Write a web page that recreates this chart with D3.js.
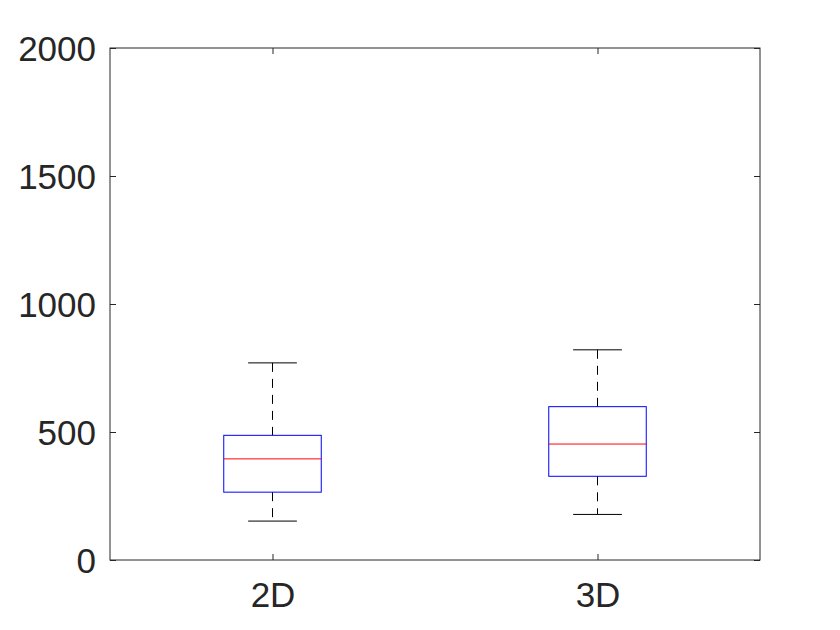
<!DOCTYPE html>
<html><head><meta charset="utf-8">
<script src="https://cdn.jsdelivr.net/npm/d3@7"></script>
<style>body{margin:0;background:#fff}</style>
</head><body>
<script>
const categories = ["2D", "3D"];
const whiskerLow = [152, 178];
const q1 = [265, 327];
const median = [395, 453];
const q3 = [487, 599];
const whiskerHigh = [770, 821];
const yTicks = [0, 500, 1000, 1500, 2000];

(function () {
const W = 840, H = 630;
const m = {left: 110, right: 80, top: 48, bottom: 70};
const svg = d3.select("body").append("svg").attr("width", W).attr("height", H);
const x = d3.scaleLinear().domain([0.5, 2.5]).range([m.left, W - m.right]);
const y = d3.scaleLinear().domain([0, 2000]).range([H - m.bottom, m.top]);
const boxW = 0.3, capW = 0.15;
const ink = "#262626";
const font = "Arial, 'Liberation Sans', sans-serif";

svg.append("rect").attr("x", x(0.5)).attr("y", y(2000))
  .attr("width", x(2.5) - x(0.5)).attr("height", y(0) - y(2000))
  .attr("fill", "none").attr("stroke", ink).attr("stroke-width", 1);

const gLeft = svg.append("g").attr("transform", `translate(${x(0.5)},0)`)
  .call(d3.axisLeft(y).tickValues(yTicks).tickFormat(d3.format("d")).tickSizeInner(-6).tickSizeOuter(0).tickPadding(14));
const gRight = svg.append("g").attr("transform", `translate(${x(2.5)},0)`)
  .call(d3.axisRight(y).tickValues(yTicks).tickSizeInner(-6).tickSizeOuter(0).tickFormat(""));
const gBottom = svg.append("g").attr("transform", `translate(0,${y(0)})`)
  .call(d3.axisBottom(x).tickValues([1, 2]).tickFormat((d, i) => categories[i]).tickSizeInner(-6).tickSizeOuter(0).tickPadding(22));
const gTop = svg.append("g").attr("transform", `translate(0,${y(2000)})`)
  .call(d3.axisTop(x).tickValues([1, 2]).tickSizeInner(-6).tickSizeOuter(0).tickFormat(""));
[gLeft, gRight, gBottom, gTop].forEach(g => {
  g.select(".domain").remove();
  g.selectAll("line").attr("stroke", ink);
  g.selectAll("text").attr("fill", ink).style("font-family", font).style("font-size", "35px");
});
gLeft.selectAll("text").attr("dy", "0.36em");

categories.forEach((c, i) => {
  const cx = x(i + 1);
  const g = svg.append("g");
  g.append("line").attr("x1", cx).attr("x2", cx).attr("y1", y(whiskerHigh[i])).attr("y2", y(q3[i]))
    .attr("stroke", "#000").attr("stroke-dasharray", "9,7");
  g.append("line").attr("x1", cx).attr("x2", cx).attr("y1", y(q1[i])).attr("y2", y(whiskerLow[i]))
    .attr("stroke", "#000").attr("stroke-dasharray", "9,7");
  [whiskerHigh[i], whiskerLow[i]].forEach(v => {
    g.append("line").attr("x1", x(i + 1 - capW / 2)).attr("x2", x(i + 1 + capW / 2))
      .attr("y1", y(v)).attr("y2", y(v)).attr("stroke", "#000");
  });
  g.append("rect").attr("x", x(i + 1 - boxW / 2)).attr("y", y(q3[i]))
    .attr("width", x(i + 1 + boxW / 2) - x(i + 1 - boxW / 2)).attr("height", y(q1[i]) - y(q3[i]))
    .attr("fill", "none").attr("stroke", "#0000ff");
  g.append("line").attr("x1", x(i + 1 - boxW / 2)).attr("x2", x(i + 1 + boxW / 2))
    .attr("y1", y(median[i])).attr("y2", y(median[i])).attr("stroke", "#ff0000");
});
})();
</script>
</body></html>
